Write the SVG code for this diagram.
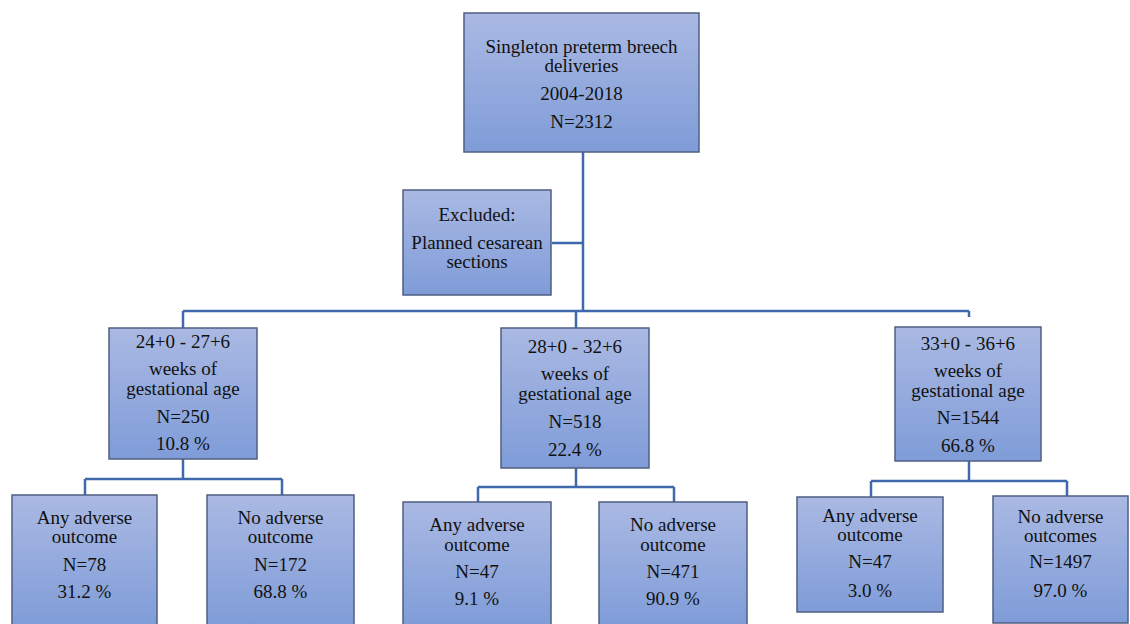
<svg xmlns="http://www.w3.org/2000/svg" width="1130" height="624" viewBox="0 0 1130 624">
<defs>
<linearGradient id="g" x1="0" y1="0" x2="0" y2="1">
<stop offset="0" stop-color="#aab9e3"/>
<stop offset="1" stop-color="#7f9cd8"/>
</linearGradient>
<style>
.box{fill:url(#g);stroke:#4f5f82;stroke-width:1.5}
.t{font-family:'Liberation Serif','Times New Roman',Times,'DejaVu Serif',serif;font-size:19px;fill:#111;text-anchor:middle}
.c{fill:none;stroke:#3f68ad;stroke-width:2.5}
</style>
</defs>
<rect width="1130" height="624" fill="#fff"/>
<g id="connectors">
<path class="c" d="M583 152V311M552 243H583M183 311H969M183 311V328M576 311V328M969 311V317"/>
<path class="c" d="M183 459V479M85 479H282M85 479V495M282 479V495"/>
<path class="c" d="M576 468V487M478 487H674M478 487V502M674 487V502"/>
<path class="c" d="M969 461V481M871 481H1067M871 481V497M1067 481V496"/>
</g>
<g id="top">
<rect class="box" x="464" y="13" width="235" height="139"/>
<text class="t" x="581.5" y="53">Singleton preterm breech</text>
<text class="t" x="581.5" y="72">deliveries</text>
<text class="t" x="581.5" y="100">2004-2018</text>
<text class="t" x="581.5" y="128">N=2312</text>
</g>
<g id="excluded">
<rect class="box" x="403" y="190" width="148" height="105"/>
<text class="t" x="477" y="221">Excluded:</text>
<text class="t" x="477" y="249">Planned cesarean</text>
<text class="t" x="477" y="268">sections</text>
</g>
<g id="ga1">
<rect class="box" x="109" y="328" width="148" height="131"/>
<text class="t" x="183" y="348">24+0 - 27+6</text>
<text class="t" x="183" y="375">weeks of</text>
<text class="t" x="183" y="395">gestational age</text>
<text class="t" x="183" y="423">N=250</text>
<text class="t" x="183" y="450">10.8 %</text>
</g>
<g id="ga2">
<rect class="box" x="501" y="328" width="148" height="140"/>
<text class="t" x="575" y="353">28+0 - 32+6</text>
<text class="t" x="575" y="380">weeks of</text>
<text class="t" x="575" y="400">gestational age</text>
<text class="t" x="575" y="428">N=518</text>
<text class="t" x="575" y="456">22.4 %</text>
</g>
<g id="ga3">
<rect class="box" x="895" y="327" width="146" height="134"/>
<text class="t" x="968" y="350">33+0 - 36+6</text>
<text class="t" x="968" y="377">weeks of</text>
<text class="t" x="968" y="397">gestational age</text>
<text class="t" x="968" y="424">N=1544</text>
<text class="t" x="968" y="452">66.8 %</text>
</g>
<g id="leaf1">
<rect class="box" x="12" y="495" width="145" height="132"/>
<text class="t" x="84.5" y="524">Any adverse</text>
<text class="t" x="84.5" y="543">outcome</text>
<text class="t" x="84.5" y="571">N=78</text>
<text class="t" x="84.5" y="598">31.2 %</text>
</g>
<g id="leaf2">
<rect class="box" x="207" y="495" width="147" height="132"/>
<text class="t" x="280.5" y="524">No adverse</text>
<text class="t" x="280.5" y="543">outcome</text>
<text class="t" x="280.5" y="571">N=172</text>
<text class="t" x="280.5" y="598">68.8 %</text>
</g>
<g id="leaf3">
<rect class="box" x="403" y="502" width="148" height="125"/>
<text class="t" x="477" y="531">Any adverse</text>
<text class="t" x="477" y="551">outcome</text>
<text class="t" x="477" y="578">N=47</text>
<text class="t" x="477" y="605">9.1 %</text>
</g>
<g id="leaf4">
<rect class="box" x="599" y="502" width="148" height="125"/>
<text class="t" x="673" y="531">No adverse</text>
<text class="t" x="673" y="551">outcome</text>
<text class="t" x="673" y="578">N=471</text>
<text class="t" x="673" y="605">90.9 %</text>
</g>
<g id="leaf5">
<rect class="box" x="797" y="497" width="146" height="115"/>
<text class="t" x="870" y="522">Any adverse</text>
<text class="t" x="870" y="541">outcome</text>
<text class="t" x="870" y="568">N=47</text>
<text class="t" x="870" y="597">3.0 %</text>
</g>
<g id="leaf6">
<rect class="box" x="993" y="496" width="135" height="127"/>
<text class="t" x="1060.5" y="523">No adverse</text>
<text class="t" x="1060.5" y="542">outcomes</text>
<text class="t" x="1060.5" y="568">N=1497</text>
<text class="t" x="1060.5" y="597">97.0 %</text>
</g>
</svg>
